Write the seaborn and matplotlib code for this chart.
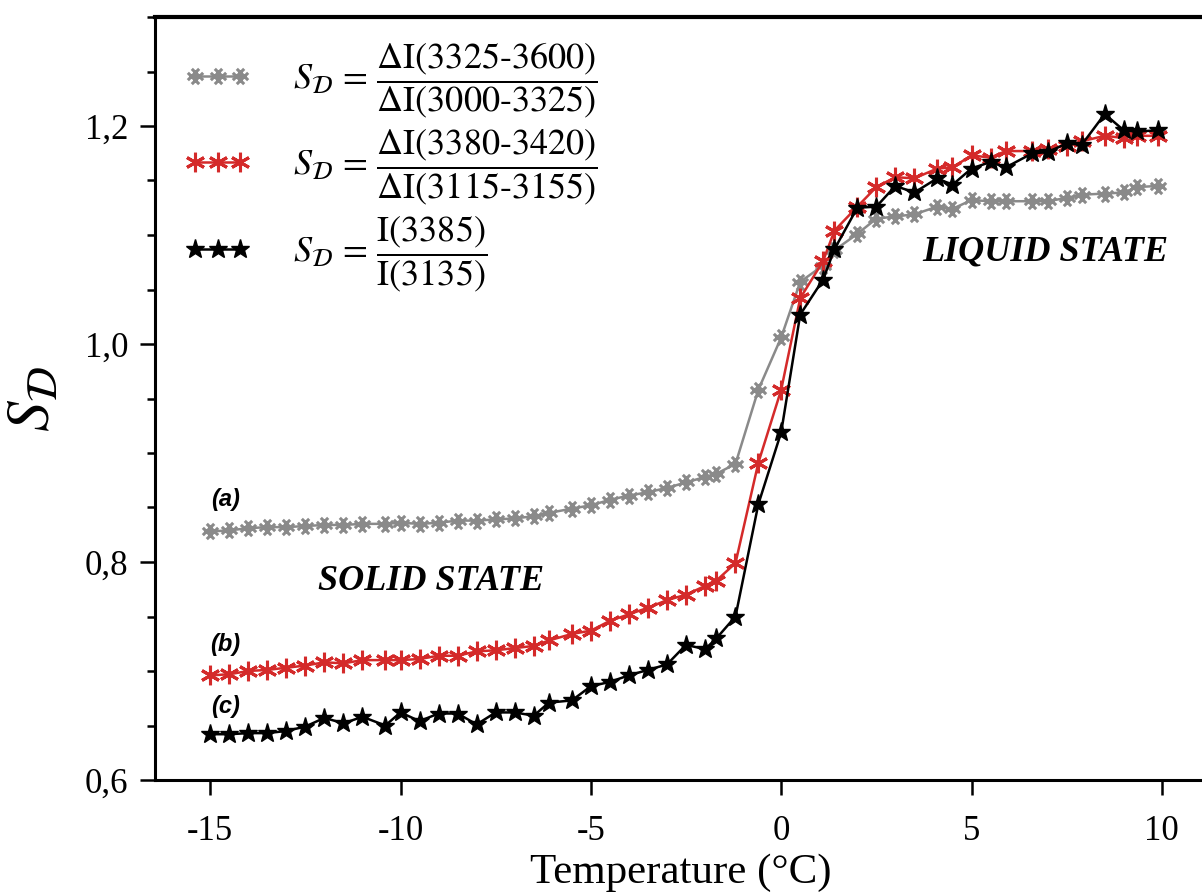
import numpy as np
import pandas as pd
import matplotlib
matplotlib.use("Agg")
import matplotlib.pyplot as plt
import seaborn as sns
from matplotlib.path import Path
from matplotlib.ticker import MultipleLocator, FuncFormatter, FixedLocator

# ---------------- data ----------------
temperature = [-15, -14.5, -14, -13.5, -13, -12.5, -12, -11.5, -11, -10.4, -10, -9.5, -9, -8.5,
               -8, -7.5, -7, -6.5, -6.1, -5.5, -5, -4.5, -4, -3.5, -3, -2.5, -2, -1.7, -1.2,
               -0.6, 0, 0.5, 1.1, 1.4, 2.0, 2.5, 3.0, 3.5, 4.1, 4.5, 5.0, 5.5, 5.9, 6.6, 7.0,
               7.5, 7.9, 8.5, 9.0, 9.35, 9.9]

series_a = [0.828, 0.829, 0.831, 0.832, 0.832, 0.833, 0.834, 0.834, 0.835, 0.835, 0.836, 0.835,
            0.836, 0.838, 0.838, 0.839, 0.840, 0.842, 0.845, 0.849, 0.852, 0.857, 0.861, 0.864,
            0.868, 0.873, 0.878, 0.881, 0.890,
            0.958, 1.006, 1.057, 1.072, 1.086, 1.101, 1.115, 1.117, 1.119, 1.126, 1.124, 1.132,
            1.131, 1.131, 1.131, 1.131, 1.134, 1.137, 1.138, 1.139, 1.144, 1.145]

series_b = [0.696, 0.697, 0.700, 0.701, 0.703, 0.705, 0.708, 0.707, 0.710, 0.710, 0.710, 0.711,
            0.714, 0.714, 0.718, 0.719, 0.721, 0.723, 0.728, 0.734, 0.737, 0.746, 0.752, 0.758,
            0.765, 0.770, 0.778, 0.783, 0.799,
            0.891, 0.958, 1.042, 1.076, 1.104, 1.126, 1.144, 1.153, 1.152, 1.161, 1.162, 1.173,
            1.171, 1.177, 1.177, 1.179, 1.182, 1.186, 1.191, 1.189, 1.191, 1.191]

series_c = [0.642, 0.642, 0.643, 0.643, 0.645, 0.649, 0.657, 0.652, 0.658, 0.650, 0.662, 0.654,
            0.661, 0.661, 0.651, 0.662, 0.662, 0.659, 0.671, 0.673, 0.686, 0.690, 0.696, 0.701,
            0.706, 0.724, 0.720, 0.730, 0.750,
            0.853, 0.919, 1.027, 1.059, 1.087, 1.125, 1.126, 1.145, 1.139, 1.152, 1.146, 1.161,
            1.167, 1.162, 1.175, 1.176, 1.184, 1.183, 1.211, 1.196, 1.195, 1.196]

legend_labels = [
    r'$S_{\mathcal{D}}\, = \,\dfrac{\mathrm{\Delta I(3325‐3600)}}{\mathrm{\Delta I(3000‐3325)}}$',
    r'$S_{\mathcal{D}}\, = \,\dfrac{\mathrm{\Delta I(3380‐3420)}}{\mathrm{\Delta I(3115‐3155)}}$',
    r'$S_{\mathcal{D}}\, = \,\dfrac{\mathrm{I(3385)}}{\mathrm{I(3135)}}$',
]
curve_tags = ["(a)", "(b)", "(c)"]
x_ticks = [-15, -10, -5, 0, 5, 10]
y_ticks = [0.6, 0.8, 1.0, 1.2]

# ---------------- style ----------------
sns.set_theme(style="ticks")
plt.rcParams['font.family'] = ['Liberation Serif', 'DejaVu Serif']
plt.rcParams['mathtext.fontset'] = 'stix'
plt.rcParams['axes.unicode_minus'] = False
for k in ['text.color', 'axes.labelcolor', 'xtick.color', 'ytick.color', 'axes.edgecolor']:
    plt.rcParams[k] = 'black'

# rotated-hash marker for series (a)
d = 0.35
segs = []
codes = []
for off in (-d, d):
    segs += [(-1 + off, -1 - off), (1 + off, 1 - off)]
    codes += [Path.MOVETO, Path.LINETO]
    segs += [(-1 + off, 1 + off), (1 + off, -1 + off)]
    codes += [Path.MOVETO, Path.LINETO]
segs += [(-1.1, 0), (1.1, 0), (0, -1.1), (0, 1.1)]
codes += [Path.MOVETO, Path.LINETO, Path.MOVETO, Path.LINETO]
hash_marker = Path(segs, codes)

df = pd.DataFrame({
    "T": temperature * 3,
    "S": series_a + series_b + series_c,
    "curve": ["a"] * len(temperature) + ["b"] * len(temperature) + ["c"] * len(temperature),
})

fig = plt.figure(figsize=(12.02, 8.93), dpi=100)
ax = fig.add_axes([155 / 1202, 1 - 780 / 893, 1.0 - 155 / 1202 + 0.003, (780 - 17) / 893])

styles = {
    "a": dict(color="#8a8a8a", marker=hash_marker, markersize=11, markeredgewidth=2.2, linewidth=1.8),
    "b": dict(color="#d42a2a", marker=(6, 2, 0), markersize=14, markeredgewidth=2.2, linewidth=1.8),
    "c": dict(color="#000000", marker="*", markersize=14, markeredgewidth=1.0, linewidth=1.8),
}

handles = []
for key, lab in zip(["a", "b", "c"], legend_labels):
    sub = df[df["curve"] == key]
    st = styles[key]
    sns.lineplot(data=sub, x="T", y="S", ax=ax, sort=False, estimator=None,
                 color=st["color"], linewidth=st["linewidth"], marker=st["marker"],
                 markersize=st["markersize"], markeredgewidth=st["markeredgewidth"],
                 markeredgecolor=st["color"], markerfacecolor=st["color"], label=lab)
    handles.append(ax.lines[-1])

ax.set_xlim(-16.45, 11.15)
ax.set_ylim(0.6, 1.3)

ax.xaxis.set_major_locator(FixedLocator(x_ticks))
ax.yaxis.set_major_locator(FixedLocator(y_ticks))
ax.yaxis.set_minor_locator(MultipleLocator(0.05))
ax.yaxis.set_major_formatter(FuncFormatter(lambda v, p: f"{v:.1f}".replace(".", ",")))
ax.xaxis.set_major_formatter(FuncFormatter(lambda v, p: f"{v:g}"))

ax.tick_params(axis="both", which="major", direction="out", length=11, width=1.8,
               labelsize=25, colors="black", pad=8)
ax.tick_params(axis="x", which="major", pad=14)
ax.tick_params(axis="y", which="minor", direction="out", length=6, width=1.8)
ax.tick_params(axis="x", which="minor", bottom=False)
ax.tick_params(top=False, right=False)

for s in ["left", "bottom", "top"]:
    ax.spines[s].set_visible(True)
    ax.spines[s].set_linewidth(2.2)
    ax.spines[s].set_color("black")
ax.spines["top"].set_linewidth(3.0)
ax.spines["right"].set_visible(False)

ax.set_xlabel("Temperature (°C)", fontsize=31, labelpad=4)
ax.set_ylabel(r"$S_{\mathcal{D}}$", fontsize=44, labelpad=16)

leg = ax.legend(handles=handles, labels=legend_labels, loc="upper left",
                bbox_to_anchor=(-0.003, 1.012), frameon=False, numpoints=3,
                handlelength=1.85, handletextpad=1.15, labelspacing=0.22, fontsize=26)

# curve tags
tag_font = dict(family="Liberation Sans", fontsize=17, fontweight="bold", fontstyle="italic",
                color="black")
ax.text(-14.6, 0.857, curve_tags[0], ha="center", va="center", **tag_font)
ax.text(-14.6, 0.724, curve_tags[1], ha="center", va="center", **tag_font)
ax.text(-14.6, 0.667, curve_tags[2], ha="center", va="center", **tag_font)

state_font = dict(family="Liberation Serif", fontsize=26, fontweight="bold", fontstyle="italic",
                  color="black")
ax.text(-9.2, 0.782, "SOLID STATE", ha="center", va="center", **state_font)
ax.text(6.95, 1.084, "LIQUID STATE", ha="center", va="center", **state_font)

fig.savefig("out.png", dpi=100)
